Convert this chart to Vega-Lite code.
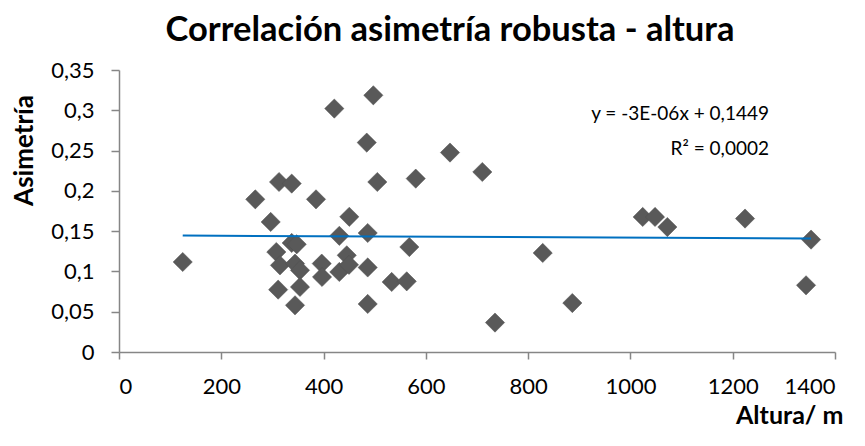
{
  "$schema": "https://vega.github.io/schema/vega-lite/v6.json",
  "width": 716,
  "height": 282,
  "autosize": {"type": "none"},
  "padding": {"left": 119, "top": 70, "right": 30, "bottom": 94},
  "background": "white",
  "title": {
    "text": "Correlación asimetría robusta - altura",
    "anchor": "middle",
    "frame": "group",
    "dx": -27,
    "offset": -16,
    "baseline": "alphabetic",
    "font": "Lato",
    "fontSize": 34.5,
    "fontWeight": "bold",
    "color": "#000000"
  },
  "config": {
    "locale": {"number": {"decimal": ",", "thousands": ".", "grouping": [3], "currency": ["", " €"]}},
    "view": {"stroke": null},
    "axis": {
      "grid": false,
      "domainColor": "#868686",
      "domainWidth": 1.5,
      "tickColor": "#868686",
      "tickWidth": 1.5,
      "labelFont": "Lato",
      "labelFontSize": 22,
      "labelColor": "#000000",
      "titleFont": "Lato",
      "titleFontWeight": "bold",
      "titleColor": "#000000"
    }
  },
  "datasets": {
    "points": [
      {"altura": 124.6, "asimetria": 0.1117},
      {"altura": 266.5, "asimetria": 0.1895},
      {"altura": 296.6, "asimetria": 0.1614},
      {"altura": 312.9, "asimetria": 0.2110},
      {"altura": 337.7, "asimetria": 0.2090},
      {"altura": 307.6, "asimetria": 0.1241},
      {"altura": 314.8, "asimetria": 0.1076},
      {"altura": 337.7, "asimetria": 0.1353},
      {"altura": 347.5, "asimetria": 0.1337},
      {"altura": 344.2, "asimetria": 0.1097},
      {"altura": 353.9, "asimetria": 0.1014},
      {"altura": 311.2, "asimetria": 0.0774},
      {"altura": 353.9, "asimetria": 0.0807},
      {"altura": 344.2, "asimetria": 0.0580},
      {"altura": 385.2, "asimetria": 0.1895},
      {"altura": 396.4, "asimetria": 0.1097},
      {"altura": 397.0, "asimetria": 0.0931},
      {"altura": 421.0, "asimetria": 0.3021},
      {"altura": 450.3, "asimetria": 0.1678},
      {"altura": 430.8, "asimetria": 0.1442},
      {"altura": 445.3, "asimetria": 0.1200},
      {"altura": 430.8, "asimetria": 0.0993},
      {"altura": 449.7, "asimetria": 0.1082},
      {"altura": 484.4, "asimetria": 0.2599},
      {"altura": 497.3, "asimetria": 0.3186},
      {"altura": 505.1, "asimetria": 0.2110},
      {"altura": 486.3, "asimetria": 0.1477},
      {"altura": 486.3, "asimetria": 0.1049},
      {"altura": 486.3, "asimetria": 0.0596},
      {"altura": 533.2, "asimetria": 0.0869},
      {"altura": 562.6, "asimetria": 0.0877},
      {"altura": 567.7, "asimetria": 0.1303},
      {"altura": 580.2, "asimetria": 0.2152},
      {"altura": 647.2, "asimetria": 0.2475},
      {"altura": 710.4, "asimetria": 0.2234},
      {"altura": 735.2, "asimetria": 0.0365},
      {"altura": 828.5, "asimetria": 0.1229},
      {"altura": 886.4, "asimetria": 0.0608},
      {"altura": 1024.0, "asimetria": 0.1676},
      {"altura": 1048.1, "asimetria": 0.1676},
      {"altura": 1072.2, "asimetria": 0.1551},
      {"altura": 1224.1, "asimetria": 0.1656},
      {"altura": 1353.2, "asimetria": 0.1395},
      {"altura": 1343.4, "asimetria": 0.0828}
    ],
    "trend": [
      {"altura": 124.6, "asimetria": 0.14453},
      {"altura": 1353.2, "asimetria": 0.14084}
    ],
    "label": [
      {"altura": 1271, "asimetria": 0.2875, "texto": ["y = -3E-06x + 0,1449", "R² = 0,0002"]}
    ]
  },
  "layer": [
    {
      "data": {"name": "points"},
      "mark": {"type": "point", "shape": "diamond", "filled": true, "size": 370, "color": "#595959", "opacity": 1, "stroke": "#505050", "strokeWidth": 0.5},
      "encoding": {
        "x": {
          "field": "altura", "type": "quantitative",
          "scale": {"domain": [0, 1400], "nice": false, "zero": true},
          "axis": {
            "values": [0, 200, 400, 600, 800, 1000, 1200, 1400],
            "format": "d",
            "tickSize": 7,
            "labelPadding": 17,
            "title": "Altura/ m",
            "titleFontSize": 25,
            "titleX": 724,
            "titleY": 71,
            "titleAlign": "right",
            "titleBaseline": "alphabetic"
          }
        },
        "y": {
          "field": "asimetria", "type": "quantitative",
          "scale": {"domain": [0, 0.35], "nice": false},
          "axis": {
            "values": [0, 0.05, 0.1, 0.15, 0.2, 0.25, 0.3, 0.35],
            "format": ".2~f",
            "tickSize": 8,
            "labelPadding": 17,
            "title": "Asimetría",
            "titleFontSize": 26,
            "titleAngle": 270,
            "titleX": -95,
            "titleY": 80,
            "titleAlign": "center",
            "titleBaseline": "middle"
          }
        }
      }
    },
    {
      "data": {"name": "trend"},
      "mark": {"type": "line", "color": "#0070C0", "strokeWidth": 2},
      "encoding": {
        "x": {"field": "altura", "type": "quantitative"},
        "y": {"field": "asimetria", "type": "quantitative"}
      }
    },
    {
      "data": {"name": "label"},
      "mark": {"type": "text", "align": "right", "baseline": "alphabetic", "font": "Lato", "fontSize": 19, "lineHeight": 35, "color": "#000000"},
      "encoding": {
        "x": {"field": "altura", "type": "quantitative"},
        "y": {"field": "asimetria", "type": "quantitative"},
        "text": {"field": "texto"}
      }
    }
  ]
}
